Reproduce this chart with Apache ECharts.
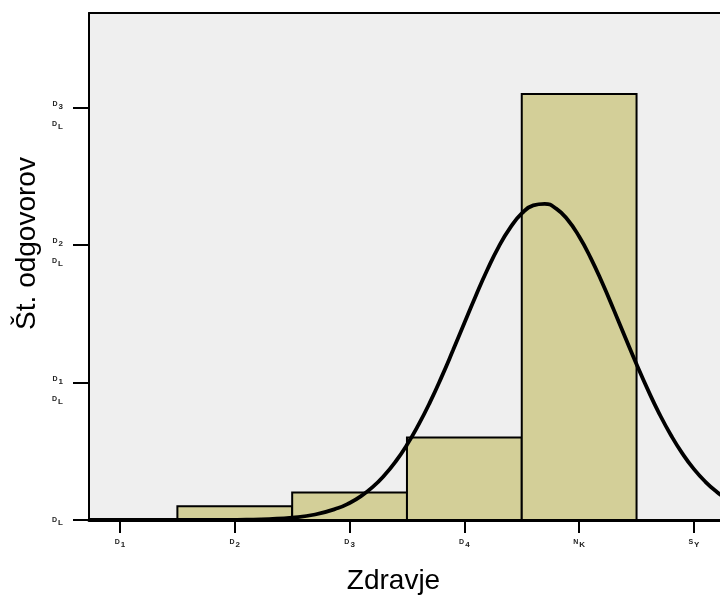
<!DOCTYPE html>
<html>
<head>
<meta charset="utf-8">
<script src="https://cdn.jsdelivr.net/npm/echarts@6/dist/echarts.min.js"></script>
<style>
  html, body { margin: 0; padding: 0; background: #ffffff; }
  #chart { width: 720px; height: 595px; }
</style>
</head>
<body>
<div id="chart"></div>
<script>
// Histogram categories (positions 1..6) and answer counts
const categories = [1, 2, 3, 4, 5, 6];
const counts = [0, 1, 2, 6, 31, 0];

// Category tick labels: main letter + subscript
const xTickLabels = [['D', '1'], ['D', '2'], ['D', '3'], ['D', '4'], ['N', 'K'], ['S', 'Y']];

// Count axis ticks and their two-part labels
const yTicks = [0, 10, 20, 30];
const yTickLabels = [
  [['D', 'L']],
  [['D', '1'], ['D', 'L']],
  [['D', '2'], ['D', 'L']],
  [['D', '3'], ['D', 'L']]
];

// Normal curve overlay (position, expected count)
const curveX = [0.73, 1.5, 2.0, 2.1, 2.3, 2.5, 2.7, 2.9, 3.0, 3.1, 3.2, 3.3, 3.4, 3.5, 3.6, 3.7, 3.8, 3.9,
  4.0, 4.1, 4.2, 4.3, 4.4, 4.5, 4.6, 4.7, 4.8, 4.9, 5.0, 5.1, 5.2, 5.3, 5.4, 5.5, 5.6, 5.7, 5.8, 5.9,
  6.0, 6.1, 6.2, 6.27];
const curveY = [0, 0, 0.01, 0.02, 0.07, 0.17, 0.40, 0.87, 1.24, 1.74, 2.39, 3.22, 4.24, 5.47, 6.92, 8.56, 10.38, 12.33,
  14.34, 16.33, 18.21, 19.90, 21.28, 22.31, 22.90, 23.01, 22.66, 21.85, 20.63, 19.08, 17.28, 15.33, 13.32, 11.34, 9.45, 7.71, 6.17, 4.83,
  3.70, 2.78, 2.04, 1.63];

// Visible window of the axes (the frame runs past the right edge of the page)
const xMin = 0.73, xMax = 6.227;
const yMin = 0, yMax = 36.9;

const subRich = {
  m: { fontSize: 7, fontFamily: 'Liberation Sans', color: '#222', fontWeight: 'bold', lineHeight: 20 },
  s: { fontSize: 8, fontFamily: 'Liberation Sans', color: '#222', fontWeight: 'bold', padding: [6, 0, 0, 1], lineHeight: 20 }
};

function pair(p) { return '{m|' + p[0] + '}{s|' + p[1] + '}'; }

const chart = echarts.init(document.getElementById('chart'), null, { renderer: 'canvas' });

chart.setOption({
  animation: false,
  backgroundColor: '#ffffff',
  grid: {
    left: 89, top: 13, right: 0, height: 507,
    outerBoundsMode: 'none',
    show: true, backgroundColor: '#efefef', borderWidth: 0
  },
  xAxis: [
    {
      type: 'value', min: xMin, max: xMax,
      name: 'Zdravje', nameLocation: 'middle', nameGap: 47,
      nameTextStyle: { fontSize: 28, fontFamily: 'Liberation Sans', color: '#000', padding: [0, 22, 0, 0] },
      axisLine: { show: true, lineStyle: { color: '#000', width: 3 } },
      axisTick: { show: true, customValues: categories, length: 13, lineStyle: { color: '#000', width: 2 } },
      axisLabel: {
        customValues: categories, margin: 15,
        formatter: function (v) {
          const i = categories.indexOf(Math.round(v));
          return i >= 0 ? pair(xTickLabels[i]) : '';
        },
        rich: {
          m: { fontSize: 7, fontFamily: 'Liberation Sans', color: '#222', fontWeight: 'bold' },
          s: { fontSize: 8, fontFamily: 'Liberation Sans', color: '#222', fontWeight: 'bold', padding: [6, 0, 0, 1] }
        }
      },
      splitLine: { show: false }
    },
    {
      // top edge of the frame
      type: 'value', position: 'top', min: xMin, max: xMax,
      axisLine: { show: true, onZero: false, lineStyle: { color: '#000', width: 2 } },
      axisTick: { show: false }, axisLabel: { show: false }, splitLine: { show: false }
    }
  ],
  yAxis: {
    type: 'value', min: yMin, max: yMax,
    name: 'Št. odgovorov', nameLocation: 'middle', nameGap: 48, nameRotate: 90,
    nameTextStyle: { fontSize: 28, fontFamily: 'Liberation Sans', color: '#000', padding: [0, 0, 0, 46] },
    axisLine: { show: true, lineStyle: { color: '#000', width: 2 } },
    axisTick: { show: true, customValues: yTicks, length: 16, lineStyle: { color: '#000', width: 2 } },
    axisLabel: {
      customValues: yTicks, margin: 26, align: 'right', verticalAlign: 'middle',
      padding: [12, 0, 0, 0],
      formatter: function (v) {
        const i = yTicks.indexOf(Math.round(v));
        if (i < 0) return '';
        const lines = yTickLabels[i].map(pair);
        if (lines.length === 1) lines.push(' ');
        return lines.join('\n');
      },
      rich: subRich
    },
    splitLine: { show: false }
  },
  series: [
    {
      type: 'custom',
      data: categories.map(function (c, i) { return [c, counts[i]]; }),
      renderItem: function (params, api) {
        const x = api.value(0), y = api.value(1);
        const p0 = api.coord([x - 0.5, y]);
        const p1 = api.coord([x + 0.5, 0]);
        return {
          type: 'rect',
          shape: { x: p0[0], y: p0[1], width: p1[0] - p0[0], height: p1[1] - p0[1] },
          style: { fill: '#d3cf98', stroke: '#000', lineWidth: 2 }
        };
      },
      clip: true,
      z: 2
    },
    {
      type: 'line',
      data: curveX.map(function (x, i) { return [x, curveY[i]]; }),
      showSymbol: false,
      smooth: true,
      clip: true,
      lineStyle: { color: '#000', width: 3.8 },
      z: 3
    }
  ]
});
</script>
</body>
</html>
